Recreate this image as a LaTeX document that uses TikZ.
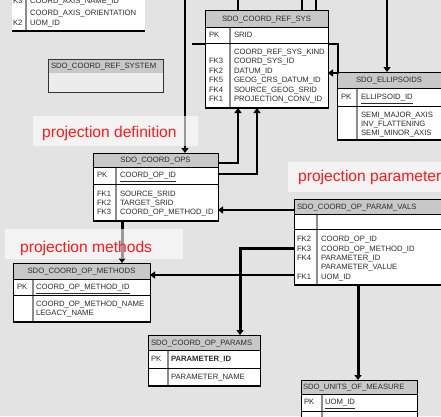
\documentclass[tikz,border=0pt]{standalone}
\usepackage{fontspec}
\setmainfont{Liberation Sans}
\usetikzlibrary{arrows.meta,fit}

\definecolor{bgc}{RGB}{227,227,227}
\definecolor{hdrc}{RGB}{200,200,200}
\definecolor{sepc}{RGB}{140,140,140}
\definecolor{txtc}{RGB}{45,45,45}
\definecolor{lblred}{RGB}{255,25,25}
\definecolor{bodyc}{RGB}{236,236,236}

\tikzset{
  fld/.style={anchor=base west, inner sep=0pt, outer sep=0pt,
              font=\fontsize{7.7}{9}\selectfont, text=txtc},
  tabframe/.style={inner sep=0pt, outer sep=0pt, fill=white},
  conn/.style={draw=black, line width=2pt,
               -{Triangle[length=5pt,width=7pt]}},
  heavyconn/.style={conn, line width=3pt},
  plainconn/.style={draw=black, line width=2pt},
  lblbox/.style={fill=white, fill opacity=0.6, draw=none,
                 inner sep=0pt, outer sep=0pt},
  lbltxt/.style={anchor=west, inner sep=0pt, text=lblred,
                 font=\fontsize{15.6}{18}\selectfont},
}

% field text: name, x, row centre y, text
\newcommand\fld[4]{\node[fld] (#1) at (#2,{#3+2.8}) {#4};}
% centred table title: name, centre x, centre y, text
\newcommand\tabhead[4]{\node[fld,anchor=base] (#1) at (#2,{#3+2.8}) {#4};}
% entity box: name, left, top, right, header bottom, key-row bottom, bottom, key column x
\newcommand\ertable[8]{%
  \node[tabframe, fit={(#2,#3) (#4,#7)}] (#1) {};
  \fill[hdrc] (#2,#3) rectangle (#4,#5);
  \draw[sepc, line width=2pt] (#8,#5) -- (#8,#7);
  \draw[line width=0.8pt] (#2,#3) rectangle (#4,#7)
       (#2,#5) -- (#4,#5) (#2,#6) -- (#4,#6);
  \draw[line width=2pt] (#2,#7) -- (#4,#7);
}

\begin{document}
\begin{tikzpicture}[x=1pt,y=-1pt]
\useasboundingbox (0,0) rectangle (441,416);
\clip (0,0) rectangle (441,416);
\fill[bgc] (0,0) rectangle (441,416);

% ---- coordinate axis entity (partly above the sheet)
\node[tabframe, fit={(12,-12) (145,31)}] (axis) {};
\draw[sepc, line width=2pt] (26,-12) -- (26,31);
\draw[line width=2pt] (12,31) -- (145,31);
\fld{ax-k3}{13}{1}{K3}
\fld{ax-f1}{30}{1}{COORD\_AXIS\_NAME\_ID}
\fld{ax-f2}{30}{13}{COORD\_AXIS\_ORIENTATION}
\fld{ax-k2}{13}{23}{K2}
\fld{ax-f3}{30}{23}{UOM\_ID}

% ---- SDO_COORD_REF_SYSTEM (view)
\node[inner sep=0pt, outer sep=0pt, fill=bodyc, fit={(48,59) (163,92)}] (crsys) {};
\fill[hdrc] (48,59) rectangle (163,73);
\draw[line width=0.7pt, black!80] (48,59) rectangle (163,92);
\fld{crsys-h}{51}{66}{SDO\_COORD\_REF\_SYSTEM}

% ---- SDO_COORD_REF_SYS
\ertable{refsys}{205}{10}{328}{27}{43}{108}{230}
\tabhead{refsys-h}{266.5}{18.5}{SDO\_COORD\_REF\_SYS}
\fld{refsys-pk}{209}{35}{PK}
\fld{refsys-k}{234}{35}{SRID}
\fld{refsys-f1}{234}{52}{COORD\_REF\_SYS\_KIND}
\fld{refsys-l2}{209}{61}{FK3}
\fld{refsys-f2}{234}{61}{COORD\_SYS\_ID}
\fld{refsys-l3}{209}{71}{FK2}
\fld{refsys-f3}{234}{71}{DATUM\_ID}
\fld{refsys-l4}{209}{80}{FK5}
\fld{refsys-f4}{234}{80}{GEOG\_CRS\_DATUM\_ID}
\fld{refsys-l5}{209}{90}{FK4}
\fld{refsys-f5}{234}{90}{SOURCE\_GEOG\_SRID}
\fld{refsys-l6}{209}{99}{FK1}
\fld{refsys-f6}{234}{99}{PROJECTION\_CONV\_ID}

% ---- SDO_ELLIPSOIDS
\ertable{ellip}{337}{72}{441}{88}{106}{140}{357}
\tabhead{ellip-h}{389}{80}{SDO\_ELLIPSOIDS}
\fld{ellip-pk}{341}{97}{PK}
\fld{ellip-k}{361}{97}{\underline{ELLIPSOID\_ID}}
\fld{ellip-f1}{361}{115}{SEMI\_MAJOR\_AXIS}
\fld{ellip-f2}{361}{124}{INV\_FLATTENING}
\fld{ellip-f3}{361}{133}{SEMI\_MINOR\_AXIS}

% ---- SDO_COORD_OPS
\ertable{ops}{93}{153}{218}{167}{184}{221}{116}
\tabhead{ops-h}{155.5}{160}{SDO\_COORD\_OPS}
\fld{ops-pk}{97}{175}{PK}
\fld{ops-k}{120}{175}{\underline{COORD\_OP\_ID}}
\fld{ops-l1}{97}{194}{FK1}
\fld{ops-f1}{120}{194}{SOURCE\_SRID}
\fld{ops-l2}{97}{203}{FK2}
\fld{ops-f2}{120}{203}{TARGET\_SRID}
\fld{ops-l3}{97}{212}{FK3}
\fld{ops-f3}{120}{212}{COORD\_OP\_METHOD\_ID}

% ---- SDO_COORD_OP_PARAM_VALS
\ertable{vals}{294}{199}{444}{214}{229}{285}{317}
\fld{vals-h}{297}{206.5}{SDO\_COORD\_OP\_PARAM\_VALS}
\fld{vals-l1}{297}{239}{FK2}
\fld{vals-f1}{321}{239}{COORD\_OP\_ID}
\fld{vals-l2}{297}{249}{FK3}
\fld{vals-f2}{321}{249}{COORD\_OP\_METHOD\_ID}
\fld{vals-l3}{297}{258}{FK4}
\fld{vals-f3}{321}{258}{PARAMETER\_ID}
\fld{vals-f4}{321}{267}{PARAMETER\_VALUE}
\fld{vals-l5}{297}{277}{FK1}
\fld{vals-f5}{321}{277}{UOM\_ID}

% ---- SDO_COORD_OP_METHODS
\ertable{meth}{13}{263}{150}{279}{295}{322}{33}
\tabhead{meth-h}{81.5}{271}{SDO\_COORD\_OP\_METHODS}
\fld{meth-pk}{17}{287}{PK}
\fld{meth-k}{36}{287}{\underline{COORD\_OP\_METHOD\_ID}}
\fld{meth-f1}{36}{304}{COORD\_OP\_METHOD\_NAME}
\fld{meth-f2}{36}{313}{LEGACY\_NAME}

% ---- SDO_COORD_OP_PARAMS
\ertable{params}{148}{335}{260}{350}{368}{386}{168}
\fld{params-h}{151}{342.5}{SDO\_COORD\_OP\_PARAMS}
\fld{params-pk}{151}{359}{PK}
\fld{params-k}{171}{359}{\bfseries PARAMETER\_ID}
\fld{params-f1}{171}{377}{PARAMETER\_NAME}

% ---- SDO_UNITS_OF_MEASURE
\ertable{units}{301}{380}{417}{394}{411}{430}{322}
\fld{units-h}{303}{387}{SDO\_UNITS\_OF\_MEASURE}
\fld{units-pk}{304}{402}{PK}
\fld{units-k}{325}{402}{\underline{UOM\_ID}}

% ---- free ends of relationships leaving the sheet
\coordinate (topdef) at (185,0);
\coordinate (topa) at (238,0);
\coordinate (topb) at (302,0);
\coordinate (topc) at (316,0);
\coordinate (topell) at (387,0);
\coordinate (leftstub) at (192,44);

% ---- relationships
\draw[conn] (topdef) -- (ops.north -| topdef);
\draw[plainconn] (topa) -- (refsys.north -| topa);
\draw[plainconn] (topb) -- (refsys.north -| topb);
\draw[plainconn] (topc) -- (refsys.north -| topc);
\draw[conn] (topell) -- (ellip.north -| topell);
\draw[plainconn] (leftstub) -- (refsys.west |- leftstub);
\draw[conn] (refsys.east |- 0,44) -- (338,44) -- (338,73) -- (refsys.east |- 0,73);
\draw[conn] (ops.east |- 0,163) -| (refsys.south -| 238,0);
\draw[conn] (ops.east |- 0,174) -| (refsys.south -| 257,0);
\draw[conn] (vals.west |- 0,210) -- (ops.east |- 0,210);
\draw[heavyconn] (vals.west |- 0,248) -| (params.north -| 240,0);
\draw[conn] (vals.west |- 0,275) -- (meth.east |- 0,275);
\draw[heavyconn] (ops.south -| 122,0) -- (meth.north -| 122,0);
\draw[heavyconn] (vals.south -| 358,0) -- (units.north -| 358,0);

% ---- annotations
\node[lblbox, fit={(33,116) (198,146)}] (defbg) {};
\node[lbltxt] (deftxt) at (42,133) {projection definition};
\node[lblbox, fit={(5,229) (183,259)}] (methbg) {};
\node[lbltxt] (methtxt) at (20,248) {projection methods};
\node[lblbox, fit={(288,162) (441,192)}] (parbg) {};
\node[lbltxt] (partxt) at (298,177.5) {projection parameters};
\end{tikzpicture}
\end{document}
